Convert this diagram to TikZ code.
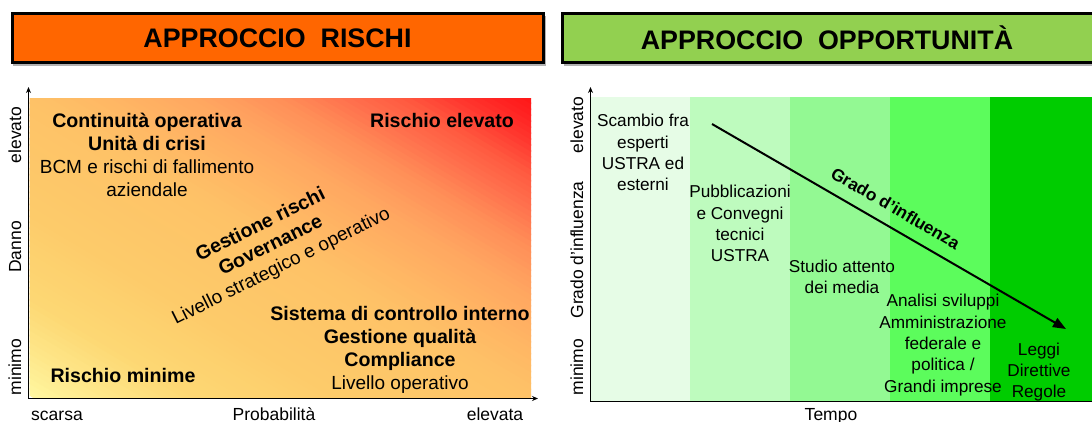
\documentclass[tikz,border=0pt]{standalone}
\usepackage{fontspec}
\setmainfont{Liberation Sans}
\usetikzlibrary{arrows.meta}
\definecolor{titleorange}{HTML}{FF6600}
\definecolor{titlegreen}{HTML}{92D050}
\definecolor{rsA}{HTML}{FFF7A0}
\definecolor{rsB}{HTML}{FEE688}
\definecolor{rsC}{HTML}{FDD874}
\definecolor{rsD}{HTML}{FDCB6A}
\definecolor{rsE}{HTML}{FEC267}
\definecolor{rsF}{HTML}{FFB664}
\definecolor{rsG}{HTML}{FFA660}
\definecolor{rsH}{HTML}{FF8E58}
\definecolor{rsI}{HTML}{FF6E4C}
\definecolor{rsJ}{HTML}{FF5A40}
\definecolor{rsK}{HTML}{FF3A30}
\definecolor{rsL}{HTML}{FF2020}
\definecolor{rsM}{HTML}{FF1414}
\definecolor{bandA}{HTML}{E6FCE6}
\definecolor{bandB}{HTML}{BEFBBE}
\definecolor{bandC}{HTML}{93F993}
\definecolor{bandD}{HTML}{5CFC5C}
\definecolor{bandE}{HTML}{00CC00}
% one segment of the diagonal gradient: tA tB colourA colourB steps
\newcommand\riskseg[5]{%
  \foreach \jj in {1,...,#5}{%
    \pgfmathsetmacro\rsLo{596*(#1+(#2-#1)*(\jj-1)/#5)}%
    \pgfmathsetmacro\rsHi{596*(#1+(#2-#1)*\jj/#5)+1.5}%
    \pgfmathsetmacro\rsMix{100*(\jj-0.5)/#5}%
    \fill[#4!\rsMix!#3] (-100,{318.7-\rsLo}) -- (700,{794.5-\rsLo}) -- (700,{794.5-\rsHi}) -- (-100,{318.7-\rsHi}) -- cycle;
  }}
\begin{document}
\begin{tikzpicture}[x=1pt,y=-1pt,
  titlebox/.style={draw=black, line width=3pt, inner sep=0pt},
  titletext/.style={font=\fontsize{26.8}{30}\selectfont\bfseries, inner sep=0pt},
  axisline/.style={line width=1.2pt, -{Stealth[length=6pt,width=5pt]}},
  ltext/.style={font=\fontsize{19}{23}\selectfont, align=center, inner sep=0pt},
  lbold/.style={font=\fontsize{19.6}{23}\selectfont\bfseries, align=center, inner sep=0pt},
  rtext/.style={font=\fontsize{17.2}{21.3}\selectfont, align=center, inner sep=0pt},
  axlabel/.style={font=\fontsize{17.5}{20}\selectfont, inner sep=0pt, anchor=base}
]
\useasboundingbox (0,0) rectangle (1092,421);

% ---------- titles ----------
\fill[black!30] (13,16) rectangle (546,66);
\node[titlebox, fill=titleorange, minimum width=531pt, minimum height=48.5pt] (t1) at (277.5,38) {};
\node[titletext] (t1txt) at (t1.center) {APPROCCIO\ \ RISCHI};
\fill[black!30] (564,16) rectangle (1100,66);
\node[titlebox, fill=titlegreen, minimum width=534pt, minimum height=48.5pt] (t2) at (829,38) {};
\node[titletext] (t2txt) at (827,38) {APPROCCIO\ \ OPPORTUNITÀ};

% ---------- left chart ----------
\begin{scope}
  \clip (29.5,98) rectangle (531,397.5);
  \riskseg{0.00}{0.08}{rsA}{rsB}{8}
  \riskseg{0.08}{0.16}{rsB}{rsC}{8}
  \riskseg{0.16}{0.31}{rsC}{rsD}{15}
  \riskseg{0.31}{0.50}{rsD}{rsE}{19}
  \riskseg{0.50}{0.58}{rsE}{rsF}{8}
  \riskseg{0.58}{0.67}{rsF}{rsG}{9}
  \riskseg{0.67}{0.75}{rsG}{rsH}{8}
  \riskseg{0.75}{0.82}{rsH}{rsI}{7}
  \riskseg{0.82}{0.87}{rsI}{rsJ}{5}
  \riskseg{0.87}{0.92}{rsJ}{rsK}{5}
  \riskseg{0.92}{0.97}{rsK}{rsL}{5}
  \riskseg{0.97}{1.01}{rsL}{rsM}{4}
\end{scope}
\coordinate (lo) at (28.5,398.5);
\coordinate (ly) at (28.5,87);
\coordinate (lx) at (538,398.5);
\draw[axisline] (lo) -- (ly);
\draw[axisline] (lo) -- (lx);

\node[axlabel, rotate=90] (le) at (21,135) {elevato};
\node[axlabel, rotate=90] (ld) at (21,247) {Danno};
\node[axlabel, rotate=90] (lm) at (21,367) {minimo};
\node[axlabel] (ls) at (57,420) {scarsa};
\node[axlabel] (lp) at (274,420) {Probabilità};
\node[axlabel] (lev) at (495,420) {elevata};

\node[ltext] (cont) at (147,154.5) {{\fontsize{19.6}{23}\selectfont\bfseries Continuità operativa}\\{\fontsize{19.6}{23}\selectfont\bfseries Unità di crisi}\\BCM e rischi di fallimento\\aziendale};
\node[lbold] (relev) at (442,120) {Rischio elevato};
\node[ltext, rotate=26.5] (gov) at (271,246) {{\fontsize{19.6}{23}\selectfont\bfseries Gestione rischi}\\{\fontsize{19.6}{23}\selectfont\bfseries Governance}\\Livello strategico e operativo};
\node[ltext] (sci) at (400,350) {{\fontsize{19.6}{23}\selectfont\bfseries Sistema di controllo interno}\\{\fontsize{19.6}{23}\selectfont\bfseries Gestione qualità}\\{\fontsize{19.6}{23}\selectfont\bfseries Compliance}\\Livello operativo};
\node[lbold] (rmin) at (123,375) {Rischio minime};

% ---------- right chart ----------
\fill[bandA] (591,97) rectangle (690,401.5);
\fill[bandB] (690,97) rectangle (790,401.5);
\fill[bandC] (790,97) rectangle (890,401.5);
\fill[bandD] (890,97) rectangle (990,401.5);
\fill[bandE] (990,97) rectangle (1093,401.5);
\coordinate (ro) at (590.5,401.5);
\coordinate (ry) at (590.5,87);
\coordinate (rx) at (1095,401.5);
\draw[axisline] (ro) -- (ry);
\draw[line width=1.2pt] (ro) -- (rx);

\node[axlabel, rotate=90] (re) at (583,125) {elevato};
\node[axlabel, rotate=90] (rg) at (583,250) {Grado d’influenza};
\node[axlabel, rotate=90] (rm) at (583,367) {minimo};
\node[axlabel] (rt) at (831,420) {Tempo};

\node[rtext] (b1) at (643,152.5) {Scambio fra\\esperti\\USTRA ed\\esterni};
\node[rtext] (b2) at (740,223.5) {Pubblicazioni\\e Convegni\\tecnici\\USTRA};
\node[rtext] (b3) at (842,276.5) {Studio attento\\dei media};
\node[rtext] (b4) at (943,345) {Analisi sviluppi\\Amministrazione\\federale e\\politica /\\Grandi imprese};
\node[rtext] (b5) at (1039,372) {Leggi\\Direttive\\Regole};

\coordinate (as) at (712,124);
\coordinate (ae) at (1066,329);
\draw[line width=2pt, -{Triangle[length=13pt,width=10pt]}] (as) -- (ae);
\node[font=\fontsize{17.2}{20}\selectfont\bfseries, inner sep=0pt, rotate=-30.07] (gi) at (895.5,208.2) {Grado d’influenza};
\end{tikzpicture}
\end{document}
